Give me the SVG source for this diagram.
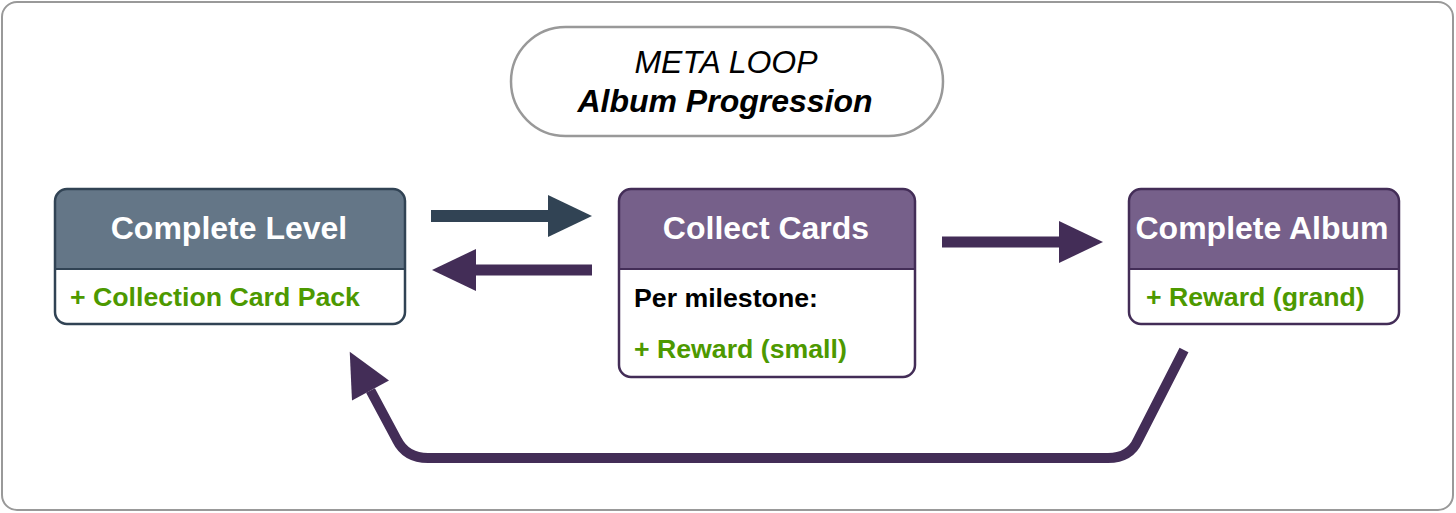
<svg xmlns="http://www.w3.org/2000/svg" width="1456" height="513" viewBox="0 0 1456 513">
<style>
.frame{fill:#ffffff;stroke:#999999;stroke-width:2}
.pill{fill:#ffffff;stroke:#999999;stroke-width:2.5}
.body{fill:#ffffff}
.outline{fill:none;stroke-width:2.5}
.hdr{font-family:"Liberation Sans",Arial,sans-serif;font-weight:bold;font-size:32px;fill:#ffffff;text-anchor:middle}
.txt{font-family:"Liberation Sans",Arial,sans-serif;font-weight:bold;font-size:26.7px}
.green{fill:#4d9900}
.black{fill:#000000}
.ttl{font-family:"Liberation Sans",Arial,sans-serif;font-style:italic;text-anchor:middle;fill:#000000;font-size:32px}
.conn{fill:none;stroke-linejoin:round}
.slate{stroke:#314354}
.plum{stroke:#432d57}
</style>
<defs>
<marker id="headSlate" markerUnits="userSpaceOnUse" markerWidth="44" markerHeight="42" refX="0" refY="21" orient="auto" overflow="visible">
<path d="M0,0 L44,21 L0,42 Z" fill="#314354"/>
</marker>
<marker id="headPlum" markerUnits="userSpaceOnUse" markerWidth="44" markerHeight="42" refX="0" refY="21" orient="auto" overflow="visible">
<path d="M0,0 L44,21 L0,42 Z" fill="#432d57"/>
</marker>
</defs>
<rect class="frame" x="2" y="2" width="1451" height="508" rx="15"/>
<g id="title">
<rect class="pill" x="511" y="27" width="432" height="109" rx="54.5"/>
<text class="ttl" x="726" y="73">META LOOP</text>
<text class="ttl" x="725" y="112" font-weight="bold">Album Progression</text>
</g>
<g id="complete-level">
<rect class="body" x="55" y="189" width="350" height="135" rx="12"/>
<path d="M55,269 V201 A12,12 0 0 1 67,189 H393 A12,12 0 0 1 405,201 V269 Z" fill="#647687"/>
<line x1="55" y1="269" x2="405" y2="269" stroke="#314354" stroke-width="2"/>
<rect class="outline" x="55" y="189" width="350" height="135" rx="12" stroke="#314354"/>
<text class="hdr" x="229" y="239">Complete Level</text>
<text class="txt green" x="70" y="306">+ Collection Card Pack</text>
</g>
<g id="collect-cards">
<rect class="body" x="619" y="189" width="296" height="188" rx="12"/>
<path d="M619,269 V201 A12,12 0 0 1 631,189 H903 A12,12 0 0 1 915,201 V269 Z" fill="#76608a"/>
<line x1="619" y1="269" x2="915" y2="269" stroke="#432d57" stroke-width="2"/>
<rect class="outline" x="619" y="189" width="296" height="188" rx="12" stroke="#432d57"/>
<text class="hdr" x="766" y="239">Collect Cards</text>
<text class="txt black" x="634" y="307">Per milestone:</text>
<text class="txt green" x="634" y="358">+ Reward (small)</text>
</g>
<g id="complete-album">
<rect class="body" x="1129" y="189" width="270" height="135" rx="12"/>
<path d="M1129,269 V201 A12,12 0 0 1 1141,189 H1387 A12,12 0 0 1 1399,201 V269 Z" fill="#76608a"/>
<line x1="1129" y1="269" x2="1399" y2="269" stroke="#432d57" stroke-width="2"/>
<rect class="outline" x="1129" y="189" width="270" height="135" rx="12" stroke="#432d57"/>
<text class="hdr" x="1262" y="239">Complete Album</text>
<text class="txt green" x="1146" y="306">+ Reward (grand)</text>
</g>
<g id="connectors">
<path class="conn slate" d="M431,216 H548" stroke-width="12" marker-end="url(#headSlate)"/>
<path class="conn plum" d="M592,270 H476" stroke-width="11" marker-end="url(#headPlum)"/>
<path class="conn plum" d="M942,242 H1059" stroke-width="11" marker-end="url(#headPlum)"/>
<path class="conn plum" d="M1184,350 L1138,440 Q1130,458 1108,458 L428,458 Q406,458 397,440 L370.5,390.5" stroke-width="10" marker-end="url(#headPlum)"/>
</g>
</svg>
